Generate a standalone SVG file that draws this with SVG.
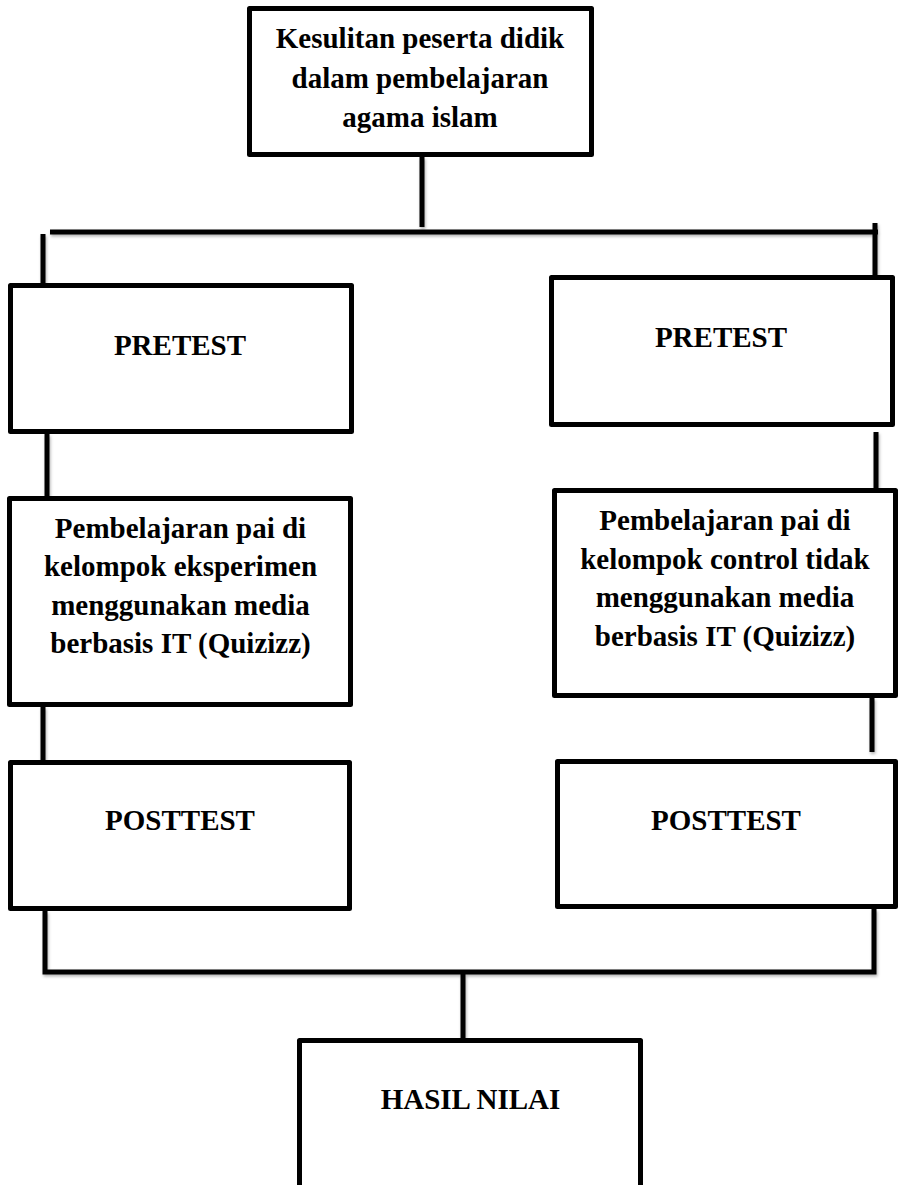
<svg xmlns="http://www.w3.org/2000/svg" width="899" height="1185" viewBox="0 0 899 1185">
  <style>
    .box { fill: #ffffff; stroke: #000000; stroke-width: 5; stroke-linejoin: round; }
    .ln { fill: none; stroke: #000000; stroke-width: 5; }
    .t { font-family: "Liberation Serif", "Times New Roman", serif; font-weight: bold; font-size: 29px; fill: #000000; text-anchor: middle; }
  </style>
  <defs>
    <filter id="sh" x="-5%" y="-5%" width="110%" height="110%">
      <feDropShadow dx="1" dy="2" stdDeviation="1.5" flood-color="#000000" flood-opacity="0.3"/>
    </filter>
  </defs>
  <rect width="899" height="1185" fill="#ffffff"/>

  <g id="connectors" filter="url(#sh)">
    <line class="ln" x1="422" y1="157" x2="422" y2="227"/>
    <line class="ln" x1="50" y1="232" x2="878" y2="232"/>
    <line class="ln" x1="43" y1="234" x2="43" y2="286"/>
    <line class="ln" x1="875" y1="223" x2="875" y2="278"/>
    <line class="ln" x1="47" y1="434" x2="47" y2="498"/>
    <line class="ln" x1="876" y1="432" x2="876" y2="495"/>
    <line class="ln" x1="43" y1="707" x2="43" y2="762"/>
    <line class="ln" x1="872" y1="698" x2="872" y2="752"/>
    <path class="ln" d="M45 911 V972 H874 V909"/>
    <line class="ln" x1="463" y1="972" x2="463" y2="1040"/>
  </g>

  <g id="node-kesulitan">
    <rect class="box" x="249.5" y="8.5" width="342" height="146"/>
    <text class="t" x="420" y="48">Kesulitan peserta didik</text>
    <text class="t" x="420" y="87.5">dalam pembelajaran</text>
    <text class="t" x="420" y="127">agama islam</text>
  </g>

  <g id="node-pretest-left">
    <rect class="box" x="10.5" y="285.5" width="341" height="146"/>
    <text class="t" x="180" y="355">PRETEST</text>
  </g>

  <g id="node-pretest-right">
    <rect class="box" x="551.5" y="277.5" width="341" height="147"/>
    <text class="t" x="721" y="347">PRETEST</text>
  </g>

  <g id="node-eksperimen">
    <rect class="box" x="9.5" y="498.5" width="341" height="206"/>
    <text class="t" x="180.5" y="537.5">Pembelajaran pai di</text>
    <text class="t" x="180.5" y="576">kelompok eksperimen</text>
    <text class="t" x="180.5" y="614.5">menggunakan media</text>
    <text class="t" x="180.5" y="653">berbasis IT (Quizizz)</text>
  </g>

  <g id="node-control">
    <rect class="box" x="554.5" y="490.5" width="341" height="205"/>
    <text class="t" x="725" y="530">Pembelajaran pai di</text>
    <text class="t" x="725" y="568.5">kelompok control tidak</text>
    <text class="t" x="725" y="607">menggunakan media</text>
    <text class="t" x="725" y="645.5">berbasis IT (Quizizz)</text>
  </g>

  <g id="node-posttest-left">
    <rect class="box" x="10.5" y="762.5" width="339" height="146"/>
    <text class="t" x="180" y="830">POSTTEST</text>
  </g>

  <g id="node-posttest-right">
    <rect class="box" x="557.5" y="761.5" width="338" height="145"/>
    <text class="t" x="726" y="830">POSTTEST</text>
  </g>

  <g id="node-hasil">
    <rect class="box" x="299.5" y="1040.5" width="341" height="200"/>
    <text class="t" x="470.5" y="1109">HASIL NILAI</text>
  </g>
</svg>
